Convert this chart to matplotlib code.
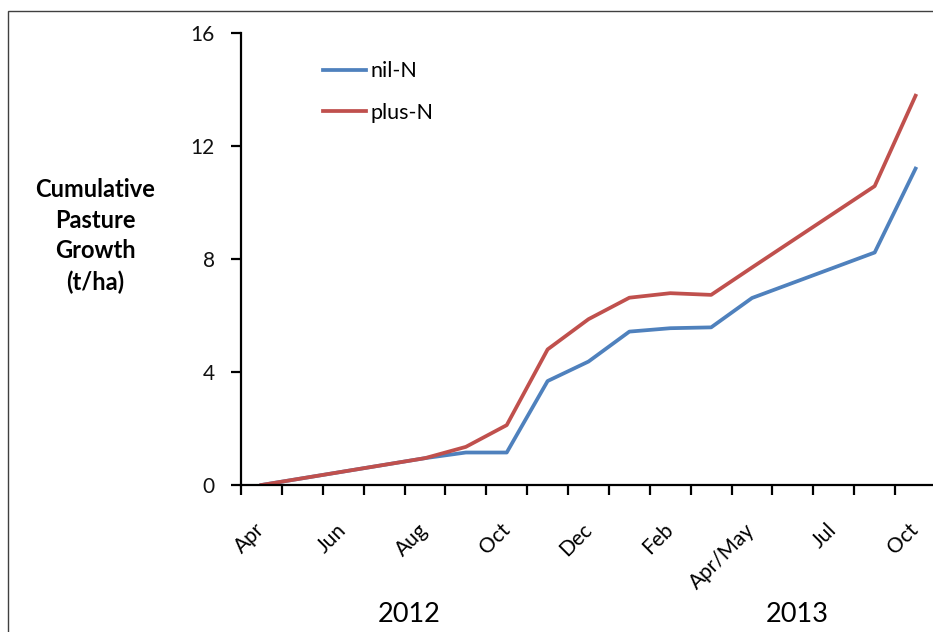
import matplotlib
matplotlib.use("Agg")
import matplotlib.pyplot as plt
from matplotlib.patches import Rectangle

plt.rcParams['font.family'] = ['Lato', 'DejaVu Sans']

# month categories on the x axis (every second one labelled)
categories = ["Apr", "", "Jun", "", "Aug", "", "Oct", "", "Dec", "",
              "Feb", "", "Apr/May", "", "Jul", "", "Oct"]

# sampling positions (category index) and cumulative growth in t/ha
nil_x = [0, 4, 5, 6, 7, 8, 9, 10, 11, 12, 15, 16]
nil_n = [0.0, 0.95, 1.15, 1.15, 3.68, 4.37, 5.43, 5.55, 5.58, 6.62, 8.23, 11.2]

plus_x = [0, 4, 5, 6, 7, 8, 9, 10, 11, 12, 15, 16]
plus_n = [0.0, 0.95, 1.35, 2.12, 4.8, 5.87, 6.63, 6.79, 6.73, 7.7, 10.58, 13.78]

years = ["2012", "2013"]

blue = "#4F81BD"
red = "#C0504D"

fig = plt.figure(figsize=(9.33, 6.32), dpi=100)
fig.patches.append(Rectangle((8 / 933, -0.1), 1.2, 1 - 11 / 632 + 0.1,
                             transform=fig.transFigure, fill=False,
                             edgecolor="#404040", linewidth=1.0))

ax = fig.add_axes([241 / 933, 147 / 632, 695 / 933, 452 / 632])

ax.plot(nil_x, nil_n, color=blue, linewidth=2.7, label="nil-N")
ax.plot(plus_x, plus_n, color=red, linewidth=2.7, label="plus-N")

ax.set_xlim(-0.5, len(categories) - 0.5)
ax.set_ylim(0, 16)

ax.spines['top'].set_visible(False)
ax.spines['right'].set_visible(False)
ax.spines['left'].set_linewidth(1.6)
ax.spines['bottom'].set_linewidth(1.6)

ax.set_yticks([0, 4, 8, 12, 16])
ax.tick_params(axis='y', direction='out', length=7, width=1.6, labelsize=15,
               pad=12, labelcolor="#111111")

# tick marks between categories, labels on categories
ax.set_xticks([i - 0.5 for i in range(len(categories) + 1)])
ax.set_xticklabels([])
ax.tick_params(axis='x', which='major', direction='out', length=7, width=1.6)
lab_pos = [i for i, c in enumerate(categories) if c]
ax.set_xticks(lab_pos, minor=True)
ax.set_xticklabels([categories[i] for i in lab_pos], minor=True,
                   rotation=45, ha='right', va='center',
                   rotation_mode='anchor', fontsize=15)
ax.tick_params(axis='x', which='minor', length=0, pad=30)

fig.text(95 / 933, 1 - 236 / 632, "Cumulative\nPasture\nGrowth\n(t/ha)",
         ha='center', va='center', fontsize=17, fontweight='bold',
         linespacing=1.4)

fig.text(409 / 933, 1 - 615 / 632, years[0], ha='center', va='center', fontsize=19.5)
fig.text(797 / 933, 1 - 615 / 632, years[1], ha='center', va='center', fontsize=19.5)

ax.legend(loc='upper left', bbox_to_anchor=(0.09, 0.98), frameon=False,
          fontsize=15.5, handlelength=2.0, handletextpad=0.2, labelspacing=1.0)

fig.savefig("out.png", dpi=100)
